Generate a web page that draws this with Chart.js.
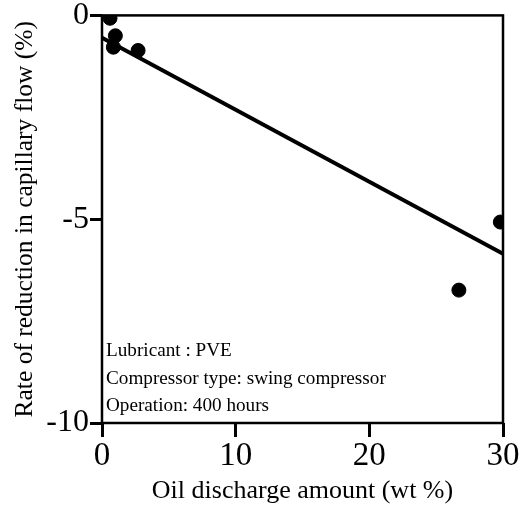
<!DOCTYPE html>
<html>
<head>
<meta charset="utf-8">
<script src="https://cdn.jsdelivr.net/npm/chart.js@4/dist/chart.umd.min.js"></script>
<style>
  html, body { margin: 0; padding: 0; background: #fff; }
  #wrap { width: 521px; height: 507px; }
</style>
</head>
<body>
<div id="wrap"><canvas id="chart" width="521" height="507"></canvas></div>
<script>
// measured points
const oilAmount = [0.6, 1.0, 0.85, 2.7, 26.7, 29.8];
const flowReduction = [-0.07, -0.5, -0.78, -0.86, -6.74, -5.07];

// fitted line end points
const fitX = [0, 30];
const fitY = [-0.55, -5.85];

const xTicks = [0, 10, 20, 30];
const yTicks = [-10, -5, 0];

const noteLines = [
    'Lubricant : PVE',
    'Compressor type: swing compressor',
    'Operation: 400 hours'
];

const serif = '"Liberation Serif", "Times New Roman", serif';

// box around plot + annotation text
const framePlugin = {
    id: 'frame',
    afterDatasetsDraw(chart) {
        const { ctx, chartArea: a } = chart;
        ctx.save();
        ctx.strokeStyle = '#000';
        ctx.lineWidth = 2.5;
        ctx.strokeRect(a.left, a.top, a.right - a.left, a.bottom - a.top);
        ctx.fillStyle = '#000';
        ctx.font = '19.2px ' + serif;
        ctx.textBaseline = 'middle';
        noteLines.forEach((t, i) => {
            ctx.fillText(t, a.left + 4, a.bottom - 72 + i * 27.5);
        });
        ctx.restore();
    }
};

new Chart(document.getElementById('chart'), {
    type: 'scatter',
    data: {
        datasets: [
            {
                label: 'data',
                data: oilAmount.map((x, i) => ({ x: x, y: flowReduction[i] })),
                backgroundColor: '#000',
                borderColor: '#000',
                pointRadius: 7,
                pointHoverRadius: 7
            },
            {
                label: 'fit',
                type: 'line',
                data: fitX.map((x, i) => ({ x: x, y: fitY[i] })),
                borderColor: '#000',
                borderWidth: 4,
                pointRadius: 0,
                fill: false
            }
        ]
    },
    options: {
        responsive: false,
        animation: false,
        layout: { padding: { top: 15, right: 18, left: 0, bottom: 0 } },
        plugins: {
            legend: { display: false },
            tooltip: { enabled: false }
        },
        scales: {
            x: {
                type: 'linear',
                min: 0,
                max: 30,
                afterBuildTicks: s => { s.ticks = xTicks.map(v => ({ value: v })); },
                afterFit: s => { s.height = 84; },
                grid: {
                    drawOnChartArea: false,
                    color: '#000',
                    tickLength: 14,
                    tickWidth: 3
                },
                border: { display: false },
                ticks: {
                    color: '#000',
                    font: { family: serif, size: 33 },
                    padding: 0
                },
                title: {
                    display: true,
                    text: 'Oil discharge amount (wt %)',
                    color: '#000',
                    font: { family: serif, size: 26 },
                    padding: { top: 0, bottom: 0 }
                }
            },
            y: {
                type: 'linear',
                min: -10,
                max: 0,
                afterBuildTicks: s => { s.ticks = yTicks.map(v => ({ value: v })); },
                afterFit: s => { s.width = 102; },
                grid: {
                    drawOnChartArea: false,
                    color: '#000',
                    tickLength: 12,
                    tickWidth: 3
                },
                border: { display: false },
                ticks: {
                    color: '#000',
                    font: { family: serif, size: 32, lineHeight: 0.9 },
                    padding: 1
                },
                title: {
                    display: true,
                    text: 'Rate of reduction in capillary flow (%)',
                    color: '#000',
                    font: { family: serif, size: 25.5 },
                    padding: { top: 10, bottom: 0 }
                }
            }
        }
    },
    plugins: [framePlugin]
});
</script>
</body>
</html>
